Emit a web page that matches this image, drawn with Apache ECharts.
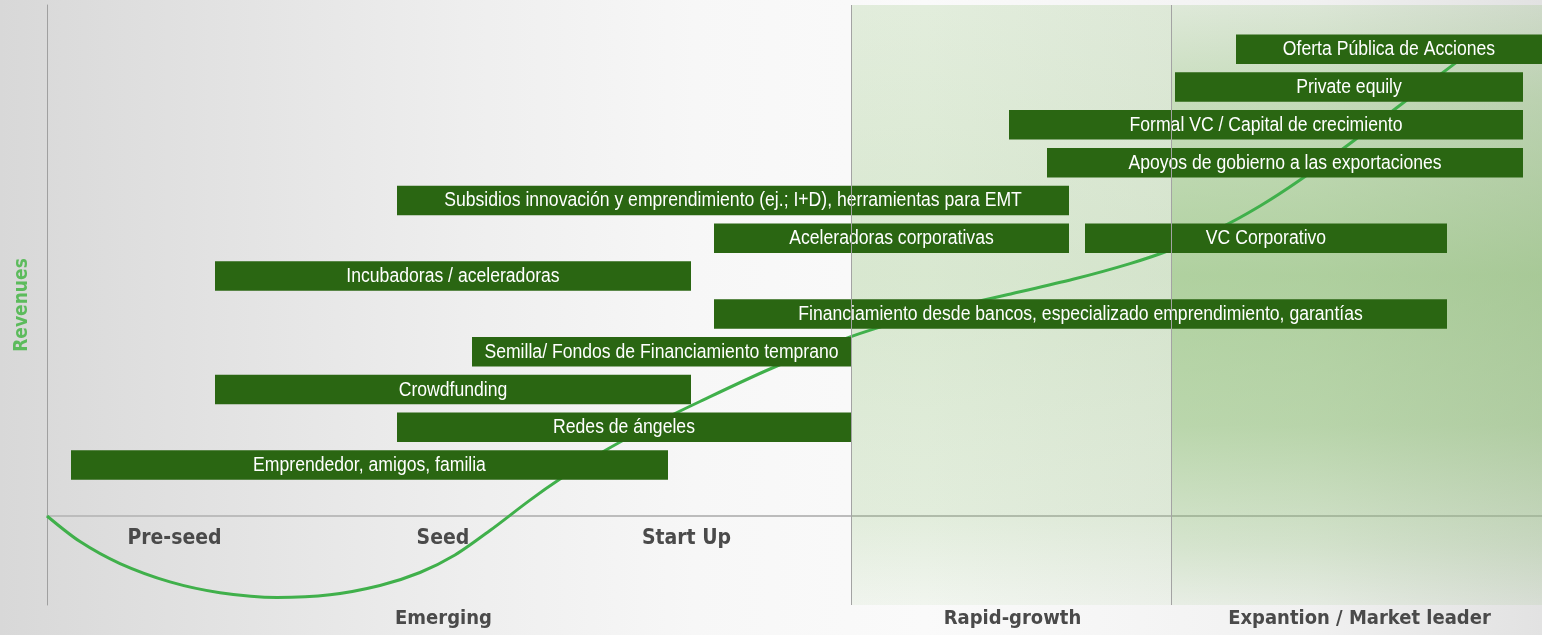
<!DOCTYPE html>
<html>
<head>
<meta charset="utf-8">
<script src="https://cdn.jsdelivr.net/npm/echarts@6/dist/echarts.min.js"></script>
<style>
  html, body { margin: 0; padding: 0; background: #ffffff; }
  #chart { width: 1542px; height: 635px; }
</style>
</head>
<body>
<div id="chart"></div>
<script>
// ---- Data ----
// Funding instruments: label, start, end (timeline units), row (level)
const barNames = [
  'Emprendedor, amigos, familia',
  'Redes de ángeles',
  'Crowdfunding',
  'Semilla/ Fondos de Financiamiento temprano',
  'Financiamiento desde bancos, especializado emprendimiento, garantías',
  'Incubadoras / aceleradoras',
  'Aceleradoras corporativas',
  'VC Corporativo',
  'Subsidios innovación y emprendimiento (ej.; I+D), herramientas para EMT',
  'Apoyos de gobierno a las exportaciones',
  'Formal VC / Capital de crecimiento',
  'Private equily',
  'Oferta Pública de Acciones'
];
const barStart = [2.4, 35.0, 16.8, 42.5, 66.7, 16.8, 66.7, 103.8, 35.0, 100.0, 96.2, 112.8, 118.9];
const barEnd   = [62.1, 80.4, 64.4, 80.4, 140.0, 64.4, 102.2, 140.0, 102.2, 147.6, 147.6, 147.6, 149.5];
const barRow   = [1, 2, 3, 4, 5, 6, 7, 7, 8, 9, 10, 11, 12];

// Revenue curve (timeline units, revenue units)
const curveX = [0, 3.3, 7.3, 12.3, 17.3, 23, 28.3, 33.3, 37.3, 40.8, 44.3, 48.3, 51.3, 55.3, 60.3, 65.3, 72.3, 80.4, 88.3, 96, 102.6, 108.3, 112.3, 117.3, 121.3, 125.3, 130.3, 135.3, 140.6, 143.3];
const curveY = [0, -2.56, -4.76, -6.59, -7.67, -8.15, -7.88, -6.95, -5.65, -3.9, -1.45, 1.59, 3.69, 6.25, 9.0, 11.45, 14.7, 17.94, 20.31, 22.12, 23.67, 25.24, 26.6, 28.8, 31.0, 33.6, 37.25, 41.08, 45.11, 47.11];

// Phase tick labels (on the zero line) and stage labels (bottom)
const phaseNames = ['Pre-seed', 'Seed', 'Start Up'];
const phasePos   = [12.75, 39.6, 63.95];
const stageNames = ['Emerging', 'Rapid-growth', 'Expantion / Market leader'];
const stagePos   = [39.65, 96.55, 131.25];
const stageBounds = [80.4, 112.4];

// ---- Build options ----
const barData = barNames.map((n, i) => [barStart[i], barEnd[i], barRow[i]]);
const curveData = curveX.map((x, i) => [x, curveY[i]]);
const labelFor = (names, pos) => (v) => {
  const i = pos.findIndex(p => Math.abs(p - v) < 1e-6);
  return i >= 0 ? names[i] : '';
};
const condensed = '"DejaVu Sans Condensed", "DejaVu Sans", sans-serif';

const chart = echarts.init(document.getElementById('chart'), null, { renderer: 'canvas' });
const option = {
  animation: false,
  backgroundColor: 'transparent',
  graphic: [{
    type: 'rect', z: -100, silent: true,
    shape: { x: 0, y: 0, width: 1542, height: 635 },
    style: {
      fill: {
        type: 'linear', x: 0, y: 0, x2: 1, y2: 0,
        colorStops: [
          { offset: 0, color: '#d8d8d8' },
          { offset: 0.15, color: '#e3e3e3' },
          { offset: 0.3, color: '#eeeeee' },
          { offset: 0.45, color: '#f7f7f7' },
          { offset: 0.6, color: '#fafafa' },
          { offset: 0.85, color: '#f1f1f1' },
          { offset: 1, color: '#e2e2e2' }
        ]
      }
    }
  }],
  grid: { left: 47, right: 0, top: 5, bottom: 30, containLabel: false },
  xAxis: [{
    type: 'value', min: 0, max: 149.5, position: 'bottom', offset: -89,
    axisLine: { show: true, onZero: false, lineStyle: { color: '#bcbcbc', width: 2 } },
    axisTick: { show: false },
    splitLine: { show: false },
    axisLabel: {
      show: true, customValues: phasePos, formatter: labelFor(phaseNames, phasePos),
      margin: 12, color: '#4a4a4a', fontSize: 21, fontWeight: 'bold', fontFamily: condensed,
      showMinLabel: true, showMaxLabel: true
    }
  }, {
    type: 'value', min: 0, max: 149.5, position: 'bottom',
    axisLine: { show: false, onZero: false },
    axisTick: { show: false },
    splitLine: { show: false },
    axisLabel: {
      show: true, customValues: stagePos, formatter: labelFor(stageNames, stagePos),
      margin: 4, color: '#4a4a4a', fontSize: 20, fontWeight: 'bold', fontFamily: condensed,
      showMinLabel: true, showMaxLabel: true
    }
  }],
  yAxis: [{
    type: 'value', min: -8.9, max: 51.1, position: 'left',
    name: 'Revenues', nameLocation: 'middle', nameRotate: 90, nameGap: 15,
    nameTextStyle: { color: '#5cbb5c', fontSize: 19, fontWeight: 'bold', fontFamily: condensed },
    axisLine: { show: true, onZero: false, lineStyle: { color: '#a0a0a0', width: 1 } },
    axisTick: { show: false }, axisLabel: { show: false }, splitLine: { show: false }
  }, {
    type: 'value', min: -2.70, max: 13.17, show: false,
    axisLine: { show: false }, axisTick: { show: false }, axisLabel: { show: false }, splitLine: { show: false }
  }],
  series: [{
    type: 'line', name: 'stages', data: [], z: 1, silent: true,
    markArea: {
      silent: true,
      data: [
        [{ xAxis: stageBounds[0], itemStyle: { color: {
            type: 'linear', x: 0, y: 0, x2: 0, y2: 1,
            colorStops: [
              { offset: 0, color: 'rgba(130,185,100,0.2)' },
              { offset: 0.45, color: 'rgba(130,185,100,0.28)' },
              { offset: 0.85, color: 'rgba(130,185,100,0.2)' },
              { offset: 1, color: 'rgba(130,185,100,0.08)' }
            ] } } },
         { xAxis: stageBounds[1] }],
        [{ xAxis: stageBounds[1], itemStyle: { color: {
            type: 'linear', x: 0, y: 0, x2: 0, y2: 1,
            colorStops: [
              { offset: 0, color: 'rgba(120,180,90,0.18)' },
              { offset: 0.15, color: 'rgba(120,180,90,0.36)' },
              { offset: 0.45, color: 'rgba(120,180,90,0.55)' },
              { offset: 0.7, color: 'rgba(120,180,90,0.47)' },
              { offset: 0.9, color: 'rgba(120,180,90,0.25)' },
              { offset: 1, color: 'rgba(120,180,90,0.1)' }
            ] } } },
         { xAxis: 149.5 }]
      ]
    },
    markLine: {
      silent: true, symbol: ['none', 'none'], label: { show: false },
      lineStyle: { color: '#a3a3a3', width: 1, type: 'solid' },
      data: stageBounds.map(v => ({ xAxis: v }))
    }
  }, {
    type: 'line', name: 'Revenues', data: curveData, smooth: 0.3, showSymbol: false, z: 2,
    xAxisIndex: 0, yAxisIndex: 0,
    lineStyle: { color: '#40b04b', width: 3 }, silent: true
  }, {
    type: 'custom', name: 'Financiamiento', data: barData, z: 3,
    xAxisIndex: 0, yAxisIndex: 1,
    encode: { x: [0, 1], y: 2 },
    renderItem: function (params, api) {
      const s = api.coord([api.value(0), api.value(2)]);
      const e = api.coord([api.value(1), api.value(2)]);
      const h = api.size([0, 1])[1] * 0.78;
      return {
        type: 'group',
        children: [{
          type: 'rect',
          shape: { x: s[0], y: s[1] - h / 2, width: e[0] - s[0], height: h },
          style: { fill: '#2a6612' }
        }, {
          type: 'text',
          x: (s[0] + e[0]) / 2, y: s[1] + 0.5, scaleX: 0.88,
          style: {
            text: barNames[params.dataIndex], fill: '#ffffff',
            font: '20px "Liberation Sans", Arial, sans-serif',
            align: 'center', verticalAlign: 'middle'
          }
        }]
      };
    }
  }]
};
chart.setOption(option);
</script>
</body>
</html>
